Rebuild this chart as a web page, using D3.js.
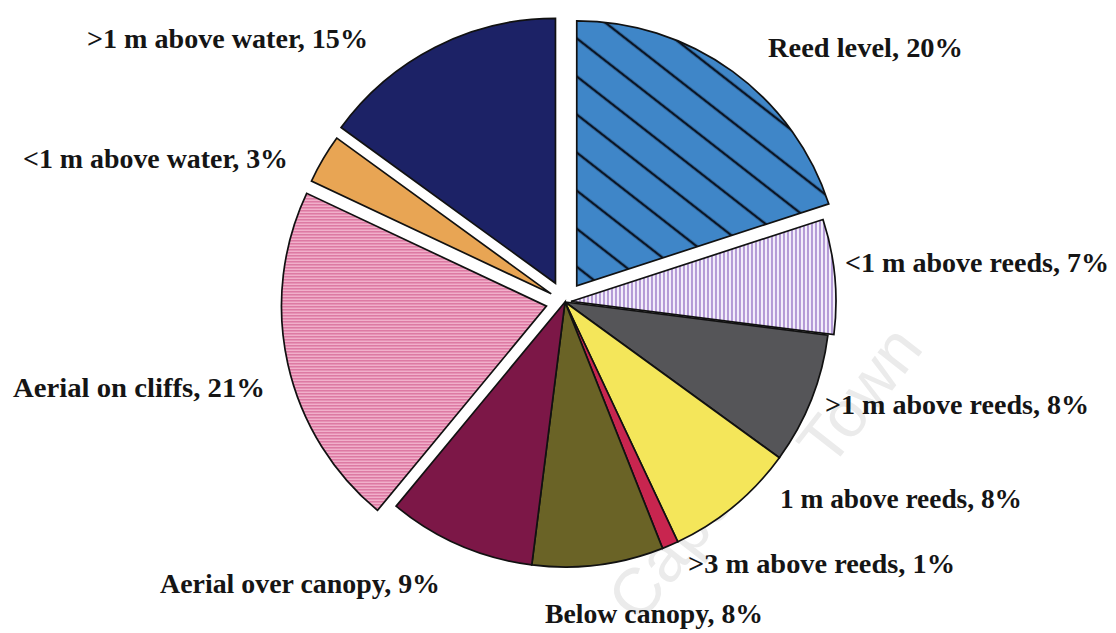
<!DOCTYPE html>
<html>
<head>
<meta charset="utf-8">
<script src="https://cdn.jsdelivr.net/npm/d3@7/dist/d3.min.js"></script>
<style>
html,body{margin:0;padding:0;background:#fff;}
svg{display:block;}
</style>
</head>
<body>
<svg id="chart" width="1116" height="633"></svg>
<script>
// ---- data ----
const categories = ["Reed level", "<1 m above reeds", ">1 m above reeds", "1 m above reeds",
  ">3 m above reeds", "Below canopy", "Aerial over canopy", "Aerial on cliffs",
  "<1 m above water", ">1 m above water"];
const values = [20, 7, 8, 8, 1, 8, 9, 21, 3, 15];
const labelTexts = ["Reed level, 20%", "<1 m above reeds, 7%", ">1 m above reeds, 8%", "1 m above reeds, 8%",
  ">3 m above reeds, 1%", "Below canopy, 8%", "Aerial over canopy, 9%", "Aerial on cliffs, 21%",
  "<1 m above water, 3%", ">1 m above water, 15%"];

// ---- styles / layout ----
const fills = ["url(#hatchBlue)", "url(#stripeLav)", "#555558", "#f4e65a", "#c8254f",
  "#6a6326", "#7c1747", "url(#stripePink)", "#e8a554", "#1c2266"];
const explode = [20, 6, 0, 0, 0, 0, 0, 19, 16, 21];
// label box: [left x, baseline y, width]
const labelBox = [[768,57,195],[845,272,264],[825,414,264],[780,508,242],[688,573,267],
  [545,623,218],[160,593,280],[13,397,252],[23,168,265],[87,48,281]];

const cx = 565, cy = 302, R = 265;
const svg = d3.select("#chart");
const defs = svg.append("defs");

const hb = defs.append("pattern").attr("id","hatchBlue").attr("patternUnits","userSpaceOnUse")
  .attr("width",30).attr("height",30).attr("patternTransform","rotate(38)");
hb.append("rect").attr("width",30).attr("height",30).attr("fill","#3f86c8");
hb.append("line").attr("x1",0).attr("y1",15).attr("x2",30).attr("y2",15)
  .attr("stroke","#0a1424").attr("stroke-width",2.5);

const sl = defs.append("pattern").attr("id","stripeLav").attr("patternUnits","userSpaceOnUse")
  .attr("width",4).attr("height",4);
sl.append("rect").attr("width",4).attr("height",4).attr("fill","#f3eefb");
sl.append("rect").attr("width",2).attr("height",4).attr("fill","#b49bd6");

const sp = defs.append("pattern").attr("id","stripePink").attr("patternUnits","userSpaceOnUse")
  .attr("width",4).attr("height",3);
sp.append("rect").attr("width",4).attr("height",3).attr("fill","#f3b3cd");
sp.append("rect").attr("width",4).attr("height",1.4).attr("fill","#d9709c");

// watermark
const wm = svg.append("g").attr("fill","#ebebeb").attr("font-family","Liberation Sans, Arial, sans-serif")
  .attr("font-size",66);
wm.append("text").attr("transform","translate(640,625) rotate(-52)").text("Cape");
wm.append("text").attr("transform","translate(830,470) rotate(-52)").text("Town");

const pie = d3.pie().sort(null).value(d => d).startAngle(0).endAngle(2*Math.PI);
const arcs = pie(values);
const arc = d3.arc().innerRadius(0).outerRadius(R);

const g = svg.append("g").attr("transform",`translate(${cx},${cy})`);
g.selectAll("path").data(arcs).join("path")
  .attr("transform",(d,i) => {
    const a = (d.startAngle + d.endAngle)/2;
    return `translate(${explode[i]*Math.sin(a)},${-explode[i]*Math.cos(a)})`;
  })
  .attr("d", arc)
  .attr("fill",(d,i) => fills[i])
  .attr("stroke","#111")
  .attr("stroke-width",1.7)
  .attr("stroke-linejoin","miter");

svg.append("g").selectAll("text").data(labelTexts).join("text")
  .attr("x",(d,i) => labelBox[i][0])
  .attr("y",(d,i) => labelBox[i][1])
  .attr("textLength",(d,i) => labelBox[i][2])
  .attr("lengthAdjust","spacingAndGlyphs")
  .attr("font-family","Liberation Serif, Times New Roman, serif")
  .attr("font-weight","bold")
  .attr("font-size",28)
  .attr("fill","#151515")
  .text(d => d);
</script>
</body>
</html>
